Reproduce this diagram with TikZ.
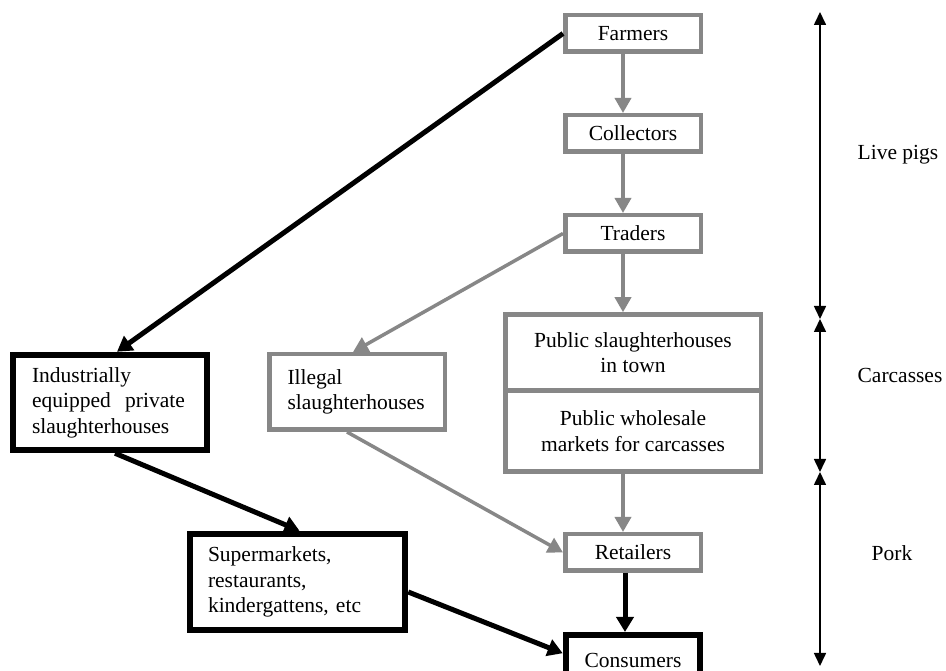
\documentclass[tikz,border=0pt]{standalone}
\usepackage{fontspec}
\setmainfont{Liberation Serif}
\usetikzlibrary{arrows.meta}
\begin{document}
\begin{tikzpicture}[x=1pt,y=1pt,
  box/.style={draw=drawColor,line width=4.5pt,fill=white,inner sep=0pt,
    minimum width=135.5pt,minimum height=36.5pt,
    font=\fontsize{21.5}{25.5}\selectfont},
  darkbox/.style={box,draw=black,line width=6.5pt},
  grayflow/.style={draw=drawColor,line width=3.5pt,-{Triangle[length=15pt,width=16pt]}},
  darkflow/.style={draw=black,line width=5pt,-{Triangle[length=15pt,width=17pt]}},
  stage/.style={line width=1.6pt,{Triangle[length=13pt,width=12pt]}-{Triangle[length=13pt,width=12pt]}},
  stagelabel/.style={inner sep=0pt,font=\fontsize{21.5}{25.5}\selectfont}]
\definecolor{fillColor}{RGB}{255,255,255}
\definecolor{drawColor}{RGB}{135,135,135}
\path[use as bounding box,fill=fillColor] (0,0) rectangle (946,671);
\clip (0,0) rectangle (946,671);

% main chain
\node[box] (farmers) at (633,637.5) {Farmers};
\node[box] (collectors) at (633,537.5) {Collectors};
\node[box] (traders) at (633,437.5) {Traders};
\node[box,minimum width=255.5pt,minimum height=76pt,align=center] (pubslaughter) at (633,318.5) {Public slaughterhouses\\in town};
\node[box,minimum width=255.5pt,minimum height=81.25pt,align=center] (pubmarket) at (633,239.9) {Public wholesale\\markets for carcasses};
\node[box] (retailers) at (633,118.5) {Retailers};
\node[darkbox,minimum width=134pt,minimum height=44pt] (consumers) at (633,13.75) {\smash{\raisebox{-10pt}{Consumers}}};

% side channels
\node[darkbox,minimum width=194pt,minimum height=95pt,text width=156pt,align=left] (industrial) at (110,268.5) {Industrially\\equipped~~private\\slaughterhouses};
\node[box,minimum width=175.5pt,minimum height=75.5pt,text width=139pt,align=left] (illegal) at (357,279) {Illegal\\slaughterhouses};
\node[darkbox,minimum width=215pt,minimum height=96pt,text width=179pt,align=left] (supermarkets) at (297.5,89) {Supermarkets,\\restaurants,\\kindergattens, etc};

% flows
\draw[grayflow] ([xshift=-10pt]farmers.south) -- ([xshift=-10pt]collectors.north);
\draw[grayflow] ([xshift=-10pt]collectors.south) -- ([xshift=-10pt]traders.north);
\draw[grayflow] ([xshift=-10pt]traders.south) -- ([xshift=-10pt]pubslaughter.north);
\draw[grayflow] ([xshift=-10pt]pubmarket.south) -- ([xshift=-10pt]retailers.north);
\draw[grayflow] (traders.west) -- ([xshift=-4pt]illegal.north);
\draw[grayflow] ([xshift=-10pt]illegal.south) -- (retailers.west);
\draw[darkflow] (farmers.west) -- ([xshift=7pt]industrial.north);
\draw[darkflow] ([xshift=5pt]industrial.south) -- ([xshift=2pt]supermarkets.north);
\draw[darkflow] ([xshift=-8pt]retailers.south) -- ([xshift=-8pt]consumers.north);
\draw[darkflow] ([yshift=-10pt]supermarkets.east) -- ([yshift=4pt]consumers.west);

% stages
\coordinate (stagetop) at (820,659);
\coordinate (stagecut1) at (820,352);
\coordinate (stagecut2) at (820,199);
\coordinate (stagebottom) at (820,5);
\draw[stage] (stagetop) -- (stagecut1);
\draw[stage] (stagecut1) -- (stagecut2);
\draw[stage] (stagecut2) -- (stagebottom);
\node[stagelabel] (livepigs) at (898,516) {Live pigs};
\node[stagelabel] (carcasses) at (900,296) {Carcasses};
\node[stagelabel] (pork) at (892,118) {Pork};
\end{tikzpicture}
\end{document}
